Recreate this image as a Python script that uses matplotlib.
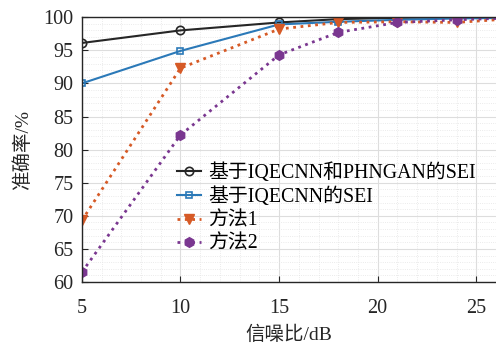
import matplotlib.pyplot as plt
from matplotlib.ticker import MultipleLocator

# SNR (dB) and accuracy (%) per method
snr = [5, 10, 15, 18, 21, 24, 27]
acc_proposed = [96.1, 98.0, 99.2, 99.7, 99.9, 100.0, 100.0]
acc_iqecnn = [90.0, 94.9, 98.9, 99.3, 99.6, 99.8, 99.9]
acc_method1 = [69.3, 92.3, 98.2, 99.2, 99.3, 99.2, 99.8]
acc_method2 = [61.5, 82.2, 94.3, 97.7, 99.2, 99.6, 99.9]

labels = ['基于IQECNN和PHNGAN的SEI', '基于IQECNN的SEI', '方法1', '方法2']

font = ['Liberation Serif', 'Noto Sans CJK SC']
plt.rcParams['font.family'] = font

fig = plt.figure(figsize=(4.96, 3.5), dpi=100)
ax = fig.add_axes([0.165, 0.194, 0.835, 0.757])

ax.plot(snr, acc_proposed, color='#262626', lw=1.5, marker='o', ms=6,
        mfc='none', mew=1.2, label=labels[0])
ax.plot(snr, acc_iqecnn, color='#2b79b8', lw=1.5, marker='s', ms=5,
        mfc='none', mew=1.2, label=labels[1])
ax.plot(snr, acc_method1, color='#d65a26', lw=2, ls=':', marker='v', ms=7,
        label=labels[2])
ax.plot(snr, acc_method2, color='#7a3790', lw=2, ls=':', marker='h', ms=7,
        label=labels[3])

ax.set_xlim(5, 26)
ax.set_ylim(60, 100)
ax.xaxis.set_major_locator(MultipleLocator(5))
ax.yaxis.set_major_locator(MultipleLocator(5))
ax.xaxis.set_minor_locator(MultipleLocator(1))
ax.yaxis.set_minor_locator(MultipleLocator(1))

ax.grid(which='major', color='#dddddd', lw=0.8)
ax.grid(which='minor', color='#e4e4e4', lw=0.6, ls=':')
ax.set_axisbelow(True)

ax.tick_params(which='major', direction='in', length=4, labelsize=14.5,
               colors='#262626', pad=6)
ax.tick_params(which='minor', length=0)
ax.tick_params(axis='x', pad=12)
for s in ax.spines.values():
    s.set_color('#262626')
    s.set_linewidth(1.0)
ax.spines['right'].set_visible(False)

ax.set_xlabel('信噪比/dB', fontsize=14, color='#262626', labelpad=6)
ax.set_ylabel('准确率/%', fontsize=14, color='#262626', labelpad=8)

ax.legend(loc='upper left', bbox_to_anchor=(0.195, 0.5), frameon=False,
          fontsize=14.3, handlelength=1.25, handletextpad=0.35,
          labelspacing=0.22, borderpad=0.2)

fig.savefig('out.png', dpi=100)
